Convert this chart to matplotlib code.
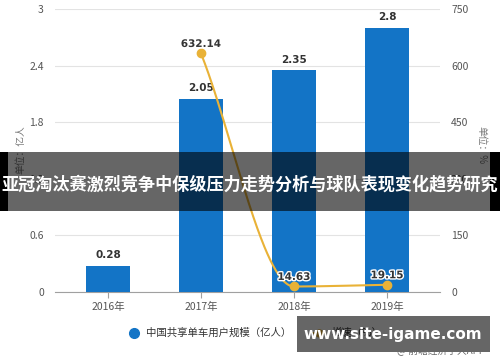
import numpy as np
import matplotlib
matplotlib.use("Agg")
import matplotlib.pyplot as plt
import matplotlib.patheffects as pe
from matplotlib.patches import Rectangle
from matplotlib.lines import Line2D

plt.rcParams['font.family'] = ['Noto Sans CJK SC', 'DejaVu Sans']

years = ['2016年', '2017年', '2018年', '2019年']
users = [0.28, 2.05, 2.35, 2.8]
growth_years_idx = [1, 2, 3]
growth = [632.14, 14.63, 19.15]
left_ticks = [0, 0.6, 1.2, 1.8, 2.4, 3]
right_ticks = [0, 150, 300, 450, 600, 750]
title = '亚冠淘汰赛激烈竞争中保级压力走势分析与球队表现变化趋势研究'

BLUE = '#1374c6'
GOLD = '#e9b237'

fig = plt.figure(figsize=(5, 3.62), dpi=100)
ax = fig.add_axes([0.11, 1 - 292/362, 0.77, (292 - 9)/362])
ax2 = ax.twinx()

x = np.arange(len(years))
ax.bar(x, users, width=0.47, color=BLUE, zorder=3)
for xi, v in zip(x, users):
    ax.text(xi, v + 0.06, f'{v:g}', ha='center', va='bottom', fontsize=7.5,
            fontweight='bold', color='#333333', family='DejaVu Sans')

ax.set_xlim(-0.57, 3.57)
ax.set_ylim(0, 3)
ax.set_yticks(left_ticks)
ax.set_yticklabels([f'{t:g}' for t in left_ticks])
ax.set_xticks(x)
ax.set_xticklabels(years)
ax.grid(axis='y', color='#e3e3e3', linewidth=0.8, zorder=0)
ax.set_axisbelow(True)
for s in ['top', 'left', 'right']:
    ax.spines[s].set_visible(False)
ax.spines['bottom'].set_color('#a0a0a0')
ax.tick_params(axis='y', length=0, labelsize=7.5, labelcolor='#555555', pad=8)
ax.tick_params(axis='x', length=4, color='#a0a0a0', labelsize=7.5, labelcolor='#555555', pad=3)

# smooth monotone curve through growth points (PCHIP)
gx = np.array(growth_years_idx, dtype=float)
gy = np.array(growth, dtype=float)
def pchip(xk, yk, xs):
    h = np.diff(xk); d = np.diff(yk) / h
    m = np.zeros_like(yk)
    for i in range(1, len(xk) - 1):
        if d[i-1] * d[i] > 0:
            w1 = 2*h[i] + h[i-1]; w2 = h[i] + 2*h[i-1]
            m[i] = (w1 + w2) / (w1/d[i-1] + w2/d[i])
    m[0] = d[0]; m[-1] = d[-1]
    out = np.empty_like(xs)
    for j, xv in enumerate(xs):
        i = min(np.searchsorted(xk, xv) - 1, len(xk) - 2); i = max(i, 0)
        t = (xv - xk[i]) / h[i]
        h00 = 2*t**3 - 3*t**2 + 1; h10 = t**3 - 2*t**2 + t
        h01 = -2*t**3 + 3*t**2; h11 = t**3 - t**2
        out[j] = h00*yk[i] + h10*h[i]*m[i] + h01*yk[i+1] + h11*h[i]*m[i+1]
    return out
xs = np.linspace(gx[0], gx[-1], 200)
ax2.plot(xs, pchip(gx, gy, xs), color=GOLD, linewidth=1.5, zorder=4)
ax2.plot(gx, gy, 'o', color=GOLD, markersize=6, zorder=5)
for xi, v in zip(gx, gy):
    ax2.text(xi, v + 12, f'{v:.2f}', ha='center', va='bottom', fontsize=7.5,
             fontweight='bold', color='#333333', family='DejaVu Sans',
             path_effects=[pe.withStroke(linewidth=2, foreground='white')], zorder=6)
ax2.set_ylim(0, 750)
ax2.set_yticks(right_ticks)
for s in ['top', 'left', 'right', 'bottom']:
    ax2.spines[s].set_visible(False)
ax2.tick_params(axis='y', length=0, labelsize=7.5, labelcolor='#555555', pad=8)

fig.text(0.04, 1 - 150/362, '单位：亿人', rotation=90, ha='center', va='center',
         fontsize=7, color='#777777')
fig.text(0.963, 1 - 145/362, '单位：%', rotation=-90, ha='center', va='center',
         fontsize=7, color='#777777')

handles = [Line2D([], [], marker='o', linestyle='none', color=BLUE, markersize=7),
           Line2D([], [], marker='o', color=GOLD, markersize=5, linewidth=1.5)]
fig.legend(handles, ['中国共享单车用户规模（亿人）', '增速（%）'], loc='center',
           bbox_to_anchor=(0.51, 1 - 333/362), ncol=2, frameon=False, fontsize=7.5,
           handlelength=1.2, columnspacing=2.0, handletextpad=0.6,
           labelcolor='#333333')

# overlay band with title
fig.patches.append(Rectangle((0, 1 - 211/362), 1, 59/362, transform=fig.transFigure,
                             facecolor='black', alpha=0.6, zorder=10))
fig.patches.append(Rectangle((0, 1 - 211/362), 8/500, 59/362, transform=fig.transFigure,
                             facecolor='black', zorder=11))
fig.patches.append(Rectangle((490/500, 1 - 211/362), 10/500, 59/362, transform=fig.transFigure,
                             facecolor='black', zorder=11))
fig.text(0.5, 1 - 184/362, title, ha='center', va='center', fontsize=12.3,
         fontweight='bold', color='white', zorder=12)

# bottom banner
fig.patches.append(Rectangle((297/500, 1 - 352/362), 193/500, 36/362, transform=fig.transFigure,
                             facecolor='black', alpha=0.6, zorder=10))
fig.text(393/500, 1 - 335/362, 'www.site-igame.com', ha='center', va='center', fontsize=11,
         fontweight='bold', color='white', family='DejaVu Sans', zorder=12)
fig.text(485/500, 1 - 351/362, '@ 前瞻经济学人APP', ha='right', va='center', fontsize=7,
         color='#666666', zorder=12)

fig.savefig('out.png', dpi=100)
